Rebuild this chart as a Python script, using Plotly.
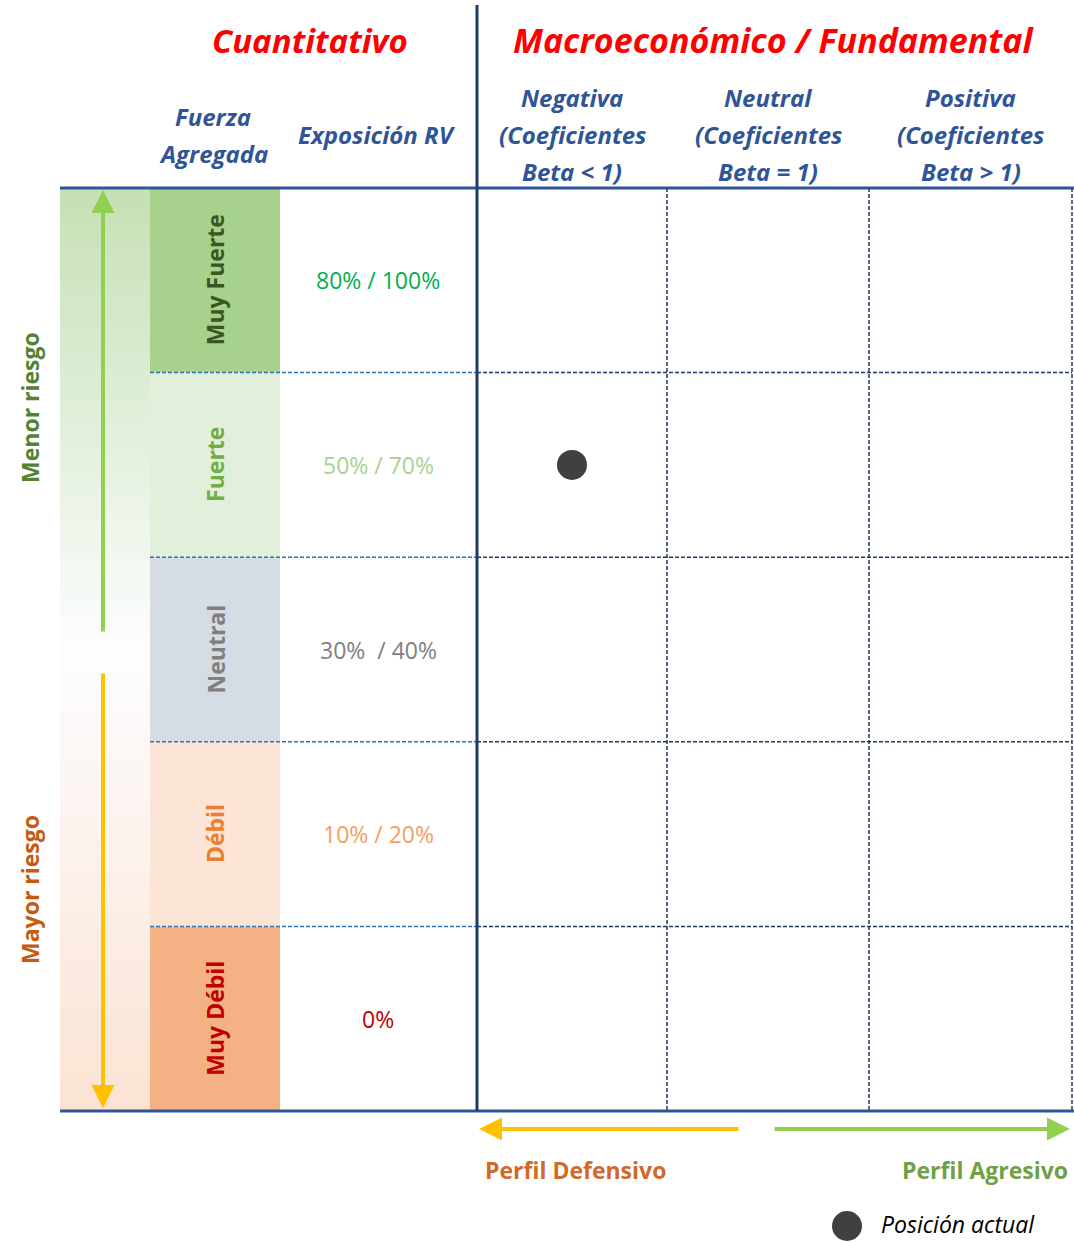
import plotly.graph_objects as go

# ---------------- data ----------------
categories = ["Muy Fuerte", "Fuerte", "Neutral", "Débil", "Muy Débil"]
exposure = ["80% / 100%", "50% / 70%", "30%  / 40%", "10% / 20%", "0%"]
macro_cols = ["Negativa", "Neutral", "Positiva"]
macro_beta = ["Beta < 1", "Beta = 1", "Beta > 1"]
current_row = "Fuerte"
current_col = "Negativa"

# ---------------- style ----------------
cat_fill = ["#A9D18E", "#E2EFDA", "#D6DCE4", "#FCE4D6", "#F4B183"]
cat_text = ["#385723", "#70AD47", "#7F7F7F", "#ED7D31", "#C00000"]
exp_text = ["#00B050", "#A9D18E", "#7F7F7F", "#F4A060", "#C00000"]
NAVY = "#1F3864"
BLUE = "#2F5597"
HEAD = "#2F5597"
FONT = "Open Sans"

W, H = 1074, 1242
top, bot = 188, 1111
row_h = (bot - top) / len(categories)
xs_grid = [477, 667, 869, 1072]
col_centers = [(xs_grid[i] + xs_grid[i + 1]) / 2 for i in range(3)]

fig = go.Figure()
shapes = []
ann = []

# gradient column on the left
def lerp(c1, c2, t):
    return tuple(int(round(a + (b - a) * t)) for a, b in zip(c1, c2))

g_top = (197, 224, 180)
g_mid = (253, 253, 255)
g_bot = (251, 227, 212)
n_b = 92
mid_y = 650
for i in range(n_b):
    y0 = top + (bot - top) * i / n_b
    y1 = top + (bot - top) * (i + 1) / n_b
    yc = (y0 + y1) / 2
    if yc < mid_y:
        c = lerp(g_top, g_mid, (yc - top) / (mid_y - top))
    else:
        c = lerp(g_mid, g_bot, (yc - mid_y) / (bot - mid_y))
    shapes.append(dict(type="rect", xref="x", yref="y", x0=60, x1=150, y0=y0, y1=y1 + 0.5,
                       fillcolor="rgb(%d,%d,%d)" % c, line=dict(width=0), layer="below"))

# category cells
for i, cat in enumerate(categories):
    y0 = top + i * row_h
    y1 = y0 + row_h
    shapes.append(dict(type="rect", xref="x", yref="y", x0=150, x1=280, y0=y0, y1=y1,
                       fillcolor=cat_fill[i], line=dict(width=0), layer="below"))
    ann.append(dict(x=215, y=(y0 + y1) / 2, text="<b>%s</b>" % cat, textangle=-90,
                    font=dict(family=FONT, size=23, color=cat_text[i])))
    ann.append(dict(x=378, y=(y0 + y1) / 2, text=exposure[i],
                    font=dict(family=FONT, size=23, color=exp_text[i])))
    if i > 0:
        shapes.append(dict(type="line", xref="x", yref="y", x0=150, x1=477, y0=y0, y1=y0,
                           line=dict(color="#2E75B6", width=1.5, dash="4px,2px")))
        shapes.append(dict(type="line", xref="x", yref="y", x0=477, x1=1072, y0=y0, y1=y0,
                           line=dict(color=NAVY, width=1.5, dash="4px,2px")))

# grid dashed verticals
for xv in xs_grid[1:]:
    shapes.append(dict(type="line", xref="x", yref="y", x0=xv, x1=xv, y0=top, y1=bot,
                       line=dict(color=NAVY, width=1.5, dash="4px,2px")))

# main lines
shapes.append(dict(type="line", xref="x", yref="y", x0=60, x1=1074, y0=top, y1=top,
                   line=dict(color=BLUE, width=3)))
shapes.append(dict(type="line", xref="x", yref="y", x0=60, x1=1074, y0=bot, y1=bot,
                   line=dict(color=BLUE, width=3)))
shapes.append(dict(type="line", xref="x", yref="y", x0=477, x1=477, y0=5, y1=bot,
                   line=dict(color=NAVY, width=3)))

# titles
ann.append(dict(x=310, y=40, text="<b><i>Cuantitativo</i></b>",
                font=dict(family=FONT, size=33, color="#FF0000")))
ann.append(dict(x=773, y=40, text="<b><i>Macroeconómico / Fundamental</i></b>",
                font=dict(family=FONT, size=34, color="#FF0000")))
ann.append(dict(x=213, y=116, text="<b><i>Fuerza</i></b>", font=dict(family=FONT, size=24, color=HEAD)))
ann.append(dict(x=213, y=153, text="<b><i>Agregada</i></b>", font=dict(family=FONT, size=24, color=HEAD)))
ann.append(dict(x=377, y=134, text="<b><i>Exposición RV</i></b>", font=dict(family=FONT, size=24, color=HEAD)))
for j, name in enumerate(macro_cols):
    for k, line in enumerate([name, "(Coeficientes", macro_beta[j] + ")"]):
        ann.append(dict(x=col_centers[j], y=97 + 37 * k, text="<b><i>%s</i></b>" % line,
                        font=dict(family=FONT, size=24, color=HEAD)))

# risk labels
ann.append(dict(x=30, y=408, text="<b>Menor riesgo</b>", textangle=-90,
                font=dict(family=FONT, size=23, color="#548235")))
ann.append(dict(x=30, y=890, text="<b>Mayor riesgo</b>", textangle=-90,
                font=dict(family=FONT, size=23, color="#C55A11")))

# arrows
def arrow(x0, y0, x1, y1, color):
    return dict(x=x1, y=y1, ax=x0, ay=y0, xref="x", yref="y", axref="x", ayref="y",
                text="", showarrow=True, arrowhead=2, arrowsize=1.15, arrowwidth=4,
                arrowcolor=color)

ann.append(arrow(103, 633, 103, 190, "#92D050"))
ann.append(arrow(103, 672, 103, 1108, "#FFC000"))
ann.append(arrow(740, 1129, 479, 1129, "#FFC000"))
ann.append(arrow(773, 1129, 1070, 1129, "#92D050"))

ann.append(dict(x=575, y=1170, text="<b>Perfil Defensivo</b>",
                font=dict(family=FONT, size=23, color="#D0692A")))
ann.append(dict(x=985, y=1170, text="<b>Perfil Agresivo</b>",
                font=dict(family=FONT, size=23, color="#70A044")))
ann.append(dict(x=958, y=1224, text="<i>Posición actual</i>",
                font=dict(family=FONT, size=23, color="#000000")))

for a in ann:
    a.setdefault("xref", "x")
    a.setdefault("yref", "y")
    a.setdefault("showarrow", False)

# current position dot
ri = categories.index(current_row)
ci = macro_cols.index(current_col)
fig.add_trace(go.Scatter(x=[col_centers[ci]], y=[top + (ri + 0.5) * row_h], mode="markers",
                         marker=dict(size=30, color="#404040"), hoverinfo="skip", showlegend=False))
# legend dot
fig.add_trace(go.Scatter(x=[847], y=[1226], mode="markers",
                         marker=dict(size=30, color="#404040"), hoverinfo="skip", showlegend=False))

fig.update_layout(
    width=W, height=H, autosize=False,
    margin=dict(l=0, r=0, t=0, b=0),
    paper_bgcolor="white", plot_bgcolor="white",
    xaxis=dict(range=[0, W], visible=False, fixedrange=True),
    yaxis=dict(range=[H, 0], visible=False, fixedrange=True),
    shapes=shapes, annotations=ann, showlegend=False,
)
fig.write_html("out.html", config={"displayModeBar": False},
               post_script="document.body.style.margin='0';document.body.style.overflow='hidden';")
